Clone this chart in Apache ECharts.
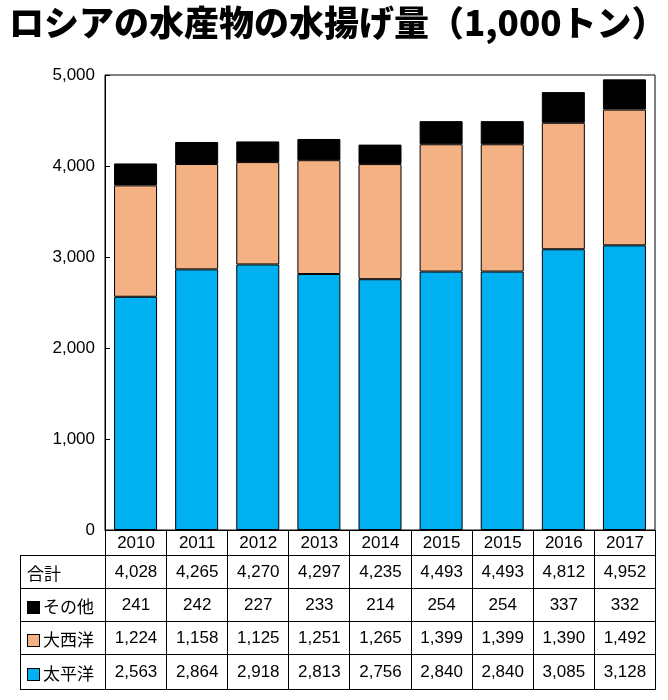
<!DOCTYPE html>
<html>
<head>
<meta charset="utf-8">
<script src="https://cdn.jsdelivr.net/npm/echarts@6/dist/echarts.min.js"></script>
<style>
body{margin:0;background:#fff;}
#wrap{position:relative;width:668px;height:700px;}
#chart{position:absolute;left:0;top:0;width:668px;height:700px;}
#tbl{position:absolute;left:20px;top:530px;border-collapse:collapse;font-family:"Liberation Sans",Arial,sans-serif;font-size:17px;table-layout:fixed;}
#tbl td{border:1px solid #000;text-align:center;padding:0;}
#tbl td.lab{text-align:left;padding-left:6px;font-family:"Noto Sans CJK JP",sans-serif;}
.mk{display:inline-block;width:11px;height:11px;border:1px solid #000;margin-right:3px;vertical-align:middle;}
</style>
</head>
<body>
<div id="wrap"><div id="chart"></div><table id="tbl"></table></div>
<script>
var years = ['2010','2011','2012','2013','2014','2015','2015','2016','2017'];
var pacific = [2563, 2864, 2918, 2813, 2756, 2840, 2840, 3085, 3128];
var atlantic = [1224, 1158, 1125, 1251, 1265, 1399, 1399, 1390, 1492];
var other = [241, 242, 227, 233, 214, 254, 254, 337, 332];
var total = [4028, 4265, 4270, 4297, 4235, 4493, 4493, 4812, 4952];

function fmt(v){ return v.toLocaleString('en-US'); }

// 表
var tbl = document.getElementById('tbl');
var colW = (635 - 85) / years.length;
var html = '<colgroup><col style="width:85px">';
years.forEach(function(){ html += '<col style="width:' + colW + 'px">'; });
html += '</colgroup>';
function row(label, vals, h, isYear){
    var s = '<tr style="height:' + h + 'px"><td class="lab" style="' + (isYear ? 'border-left:none;border-top:none' : '') + '">' + label + '</td>';
    vals.forEach(function(v){ s += '<td>' + (isYear ? v : fmt(v)) + '</td>'; });
    return s + '</tr>';
}
html += row('', years, 25, true);
html += row('合計', total, 33);
html += row('<span class="mk" style="background:#000"></span>その他', other, 33);
html += row('<span class="mk" style="background:#f4b183"></span>大西洋', atlantic, 33);
html += row('<span class="mk" style="background:#00b0f0"></span>太平洋', pacific, 35);
tbl.innerHTML = html;

var chart = echarts.init(document.getElementById('chart'));
var bw = 43;
chart.setOption({
    animation: false,
    title: {
        text: 'ロシアの水産物の水揚げ量（1,000トン）',
        left: 4, top: 0,
        textStyle: {fontFamily: 'Noto Sans CJK JP', fontWeight: 900, fontSize: 35, color: '#000'}
    },
    grid: {left: 105, right: 13, top: 75, bottom: 170, show: true, borderColor: '#000', borderWidth: 1},
    xAxis: {
        type: 'category', data: years,
        axisLabel: {show: false}, axisTick: {show: false},
        axisLine: {lineStyle: {color: '#000'}}
    },
    yAxis: {
        type: 'value', min: 0, max: 5000, interval: 1000,
        splitLine: {show: false},
        axisLine: {show: true, lineStyle: {color: '#000'}},
        axisTick: {show: true, inside: true, length: 5, lineStyle: {color: '#000'}},
        axisLabel: {formatter: function(v){ return fmt(v); }, fontSize: 17, color: '#000', fontFamily: 'Liberation Sans', margin: 10}
    },
    series: [
        {name: '太平洋', type: 'bar', stack: 't', data: pacific, barWidth: bw, itemStyle: {color: '#00b0f0', borderColor: '#000', borderWidth: 1}},
        {name: '大西洋', type: 'bar', stack: 't', data: atlantic, barWidth: bw, itemStyle: {color: '#f4b183', borderColor: '#000', borderWidth: 1}},
        {name: 'その他', type: 'bar', stack: 't', data: other, barWidth: bw, itemStyle: {color: '#000', borderColor: '#000', borderWidth: 1}}
    ]
});
</script>
</body>
</html>
